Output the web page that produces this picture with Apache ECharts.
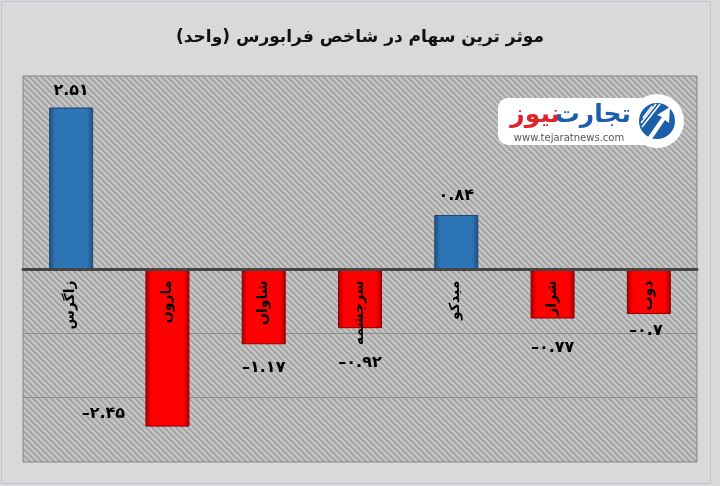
<!DOCTYPE html>
<html>
<head>
<meta charset="utf-8">
<script src="https://cdn.jsdelivr.net/npm/echarts@6/dist/echarts.min.js"></script>
<style>
html,body{margin:0;padding:0;background:#d9d9d9;}
#c{width:720px;height:486px;}
</style>
</head>
<body>
<div id="c"></div>
<script>
// ---- data ----
const titleText = 'موثر ترین سهام در شاخص فرابورس (واحد)';
const categories = ['زاگرس', 'مارون', 'شاوان', 'سرچشمه', 'میدکو', 'شراز', 'ذوب'];
const values = [2.51, -2.45, -1.17, -0.92, 0.84, -0.77, -0.7];
const axisMin = -3, axisMax = 3, axisStep = 1;
// label nudges (layout only, px)
const labelNudge = [[0, -9], [-64, -21], [0, 16], [0, 27], [0, -11], [0, 21], [-3, 9]];

const faDigits = '۰۱۲۳۴۵۶۷۸۹';
function toFa(v) {
  const s = String(Math.abs(v)).replace(/[0-9]/g, d => faDigits[+d]);
  return (v < 0 ? '\u2013' : '') + s;
}

// hatch pattern
function makeHatch() {
  const n = 6;
  const cv = document.createElement('canvas');
  cv.width = n; cv.height = n;
  const ctx = cv.getContext('2d');
  const img = ctx.createImageData(n, n);
  for (let y = 0; y < n; y++) for (let x = 0; x < n; x++) {
    const k = ((x - y) % n + n) % n;
    const c = k < 2 ? 0xa4 : (k === 2 || k === 5 ? 0xb6 : 0xc9);
    const i = (y * n + x) * 4;
    img.data[i] = c; img.data[i + 1] = c; img.data[i + 2] = c; img.data[i + 3] = 255;
  }
  ctx.putImageData(img, 0, 0);
  return cv;
}

const FONT = '"DejaVu Sans", "Noto Sans", sans-serif';

function barColor(v) {
  const pos = v >= 0;
  const edge = pos ? '#1d4f80' : '#a80000';
  const mid = pos ? '#2e75b6' : '#ff0000';
  return {
    type: 'linear', x: 0, y: 0, x2: 1, y2: 0,
    colorStops: [
      { offset: 0, color: edge },
      { offset: 0.14, color: mid },
      { offset: 0.86, color: mid },
      { offset: 1, color: edge }
    ]
  };
}

const seriesData = values.map((v, i) => ({
  value: v,
  itemStyle: { color: barColor(v), borderColor: v >= 0 ? '#1a4670' : '#8a0000', borderWidth: 1 },
  label: {
    position: v >= 0 ? 'top' : 'bottom',
    offset: labelNudge[i]
  }
}));

const chart = echarts.init(document.getElementById('c'), null, { renderer: 'canvas' });
chart.setOption({
  backgroundColor: '#d9d9d9',
  animation: false,
  title: {
    text: titleText, left: 'center', top: 24,
    textStyle: { fontFamily: FONT, fontSize: 17, fontWeight: 'bold', color: '#111' }
  },
  grid: {
    left: 23, right: 23, top: 76, bottom: 24,
    containLabel: false,
    outerBoundsMode: 'none',
    show: true,
    backgroundColor: { image: makeHatch(), repeat: 'repeat' },
    borderColor: '#858585', borderWidth: 1
  },
  xAxis: {
    type: 'category', data: categories, z: 10,
    axisLine: { onZero: true, lineStyle: { color: '#454545', width: 3 } },
    axisTick: { show: false },
    axisLabel: { show: false },
    splitLine: { show: false }
  },
  yAxis: {
    type: 'value', min: axisMin, max: axisMax, interval: axisStep,
    axisLine: { show: false }, axisTick: { show: false }, axisLabel: { show: false },
    splitLine: {
      show: true,
      lineStyle: { width: 1, color: ['rgba(0,0,0,0)', '#8c8c8c', '#8c8c8c', 'rgba(0,0,0,0)', 'rgba(0,0,0,0)', 'rgba(0,0,0,0)', 'rgba(0,0,0,0)'] }
    }
  },
  series: [{
    type: 'bar', data: seriesData, barWidth: 44,
    label: {
      show: true, distance: 0,
      fontFamily: FONT, fontSize: 16, fontWeight: 'bold', color: '#000',
      formatter: p => toFa(p.value)
    }
  }, {
    // category names drawn just under the zero line
    type: 'scatter', z: 20,
    data: categories.map(c => ({ name: c, value: 0 })),
    symbolSize: 1,
    itemStyle: { color: 'rgba(0,0,0,0)' },
    silent: true,
    label: {
      show: true, position: [0, 12], rotate: 90,
      align: 'right', verticalAlign: 'middle',
      fontFamily: FONT, fontSize: 14, fontWeight: 'bold', color: '#000', opacity: 1,
      formatter: p => p.name
    }
  }],
  graphic: [
    { type: 'rect', z: -10, silent: true, shape: { x: 1.5, y: 1.5, width: 709, height: 482 }, style: { fill: 'none', stroke: '#bcc6d0', lineWidth: 1 } },
    // watermark logo
    { type: 'rect', z: 50, shape: { x: 498, y: 98, width: 170, height: 47, r: 10 }, style: { fill: '#ffffff' } },
    { type: 'circle', z: 50, shape: { cx: 657, cy: 121, r: 27 }, style: { fill: '#ffffff' } },
    { type: 'circle', z: 51, shape: { cx: 657, cy: 121, r: 18 }, style: { fill: '#1b5ea9' } },
    { type: 'polyline', z: 52, shape: { points: [[643, 118], [652, 106]] }, style: { stroke: '#fff', lineWidth: 1.6 } },
    { type: 'polyline', z: 52, shape: { points: [[641, 123], [656, 104]] }, style: { stroke: '#fff', lineWidth: 1.6 } },
    { type: 'polyline', z: 52, shape: { points: [[642, 127], [660, 104]] }, style: { stroke: '#fff', lineWidth: 1.6 } },
    { type: 'polygon', z: 52, shape: { points: [[648, 137], [662, 117], [657, 115], [670, 107], [669, 123], [665, 120], [652, 139]] }, style: { fill: '#fff' } },
    { type: 'text', z: 52, style: { text: 'تجارت', x: 631, y: 115, align: 'right', verticalAlign: 'middle', font: 'bold 25px ' + FONT, fill: '#1b5ea9' } },
    { type: 'text', z: 52, style: { text: 'نیوز', x: 560, y: 115, align: 'right', verticalAlign: 'middle', font: 'bold 25px ' + FONT, fill: '#e0222b' } },
    { type: 'text', z: 52, style: { text: 'www.tejaratnews.com', x: 569, y: 138, align: 'center', verticalAlign: 'middle', font: '10px ' + FONT, fill: '#555', letterSpacing: 1 } }
  ]
});
</script>
</body>
</html>
